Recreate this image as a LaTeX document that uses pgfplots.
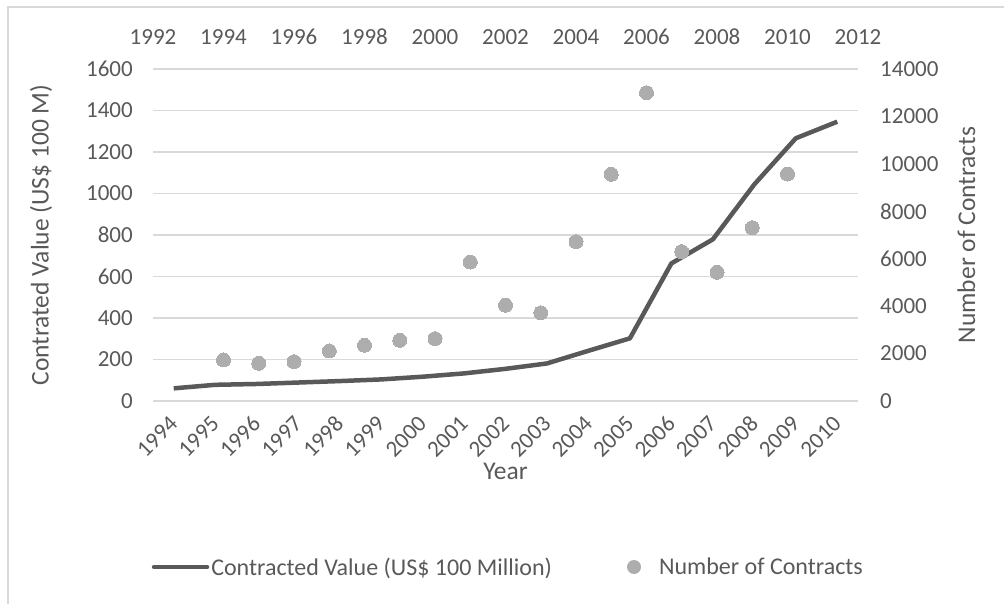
\documentclass[border=0pt]{standalone}
\usepackage{fontspec}
\setmainfont{Carlito}
\usepackage{pgfplots}
\usepackage{pgfplotstable}
\pgfplotsset{compat=1.18}

\definecolor{txt}{HTML}{595959}
\definecolor{gridgray}{HTML}{D9D9D9}
\definecolor{valline}{HTML}{595959}
\definecolor{dots}{HTML}{ADADAD}

\newcommand\tickfont{\fontsize{23}{27}\selectfont}
\newcommand\titlefont{\fontsize{25.5}{30}\selectfont}
\newcommand\legfont{\fontsize{24}{29}\selectfont}

% Contracted value, US$ 100 million (category axis, index 0 = 1994)
\pgfplotstableread{
idx year value
0  1994 61
1  1995 78
2  1996 82
3  1997 89
4  1998 96
5  1999 104
6  2000 117
7  2001 133
8  2002 155
9  2003 181
10 2004 242
11 2005 302
12 2006 663
13 2007 779
14 2008 1044
15 2009 1266
16 2010 1346
}\valuetable

% Number of contracts (secondary axes)
\pgfplotstableread{
year count
1994 1730
1995 1590
1996 1660
1997 2110
1998 2350
1999 2560
2000 2630
2001 5860
2002 4040
2003 3720
2004 6720
2005 9560
2006 13000
2007 6300
2008 5430
2009 7310
2010 9570
}\counttable

\pgfplotsset{
  chartbase/.style={
    scale only axis, width=705pt, height=332pt,
    at={(153pt,202pt)}, anchor=south west,
    axis line style={draw=none},
    major tick length=0pt,
    tick label style={font=\tickfont, text=txt, inner sep=0pt},
    /pgf/number format/1000 sep={},
    /pgf/number format/assume math mode=true,
    scaled ticks=false,
    label style={font=\titlefont, text=txt},
  }
}

\begin{document}
\begin{tikzpicture}[x=1pt,y=1pt]
\useasboundingbox (0,0) rectangle (1004,603);
% chart area frame
\draw[gridgray, line width=1.3pt] (8,-10) -- (8,596) -- (1020,596);

\begin{axis}[chartbase,
  xmin=-0.5, xmax=16.5, ymin=0, ymax=1600,
  xtick={0,...,16},
  xticklabels={1994,1995,1996,1997,1998,1999,2000,2001,2002,2003,2004,2005,2006,2007,2008,2009,2010},
  ytick={0,200,...,1600},
  ymajorgrids, grid style={gridgray, line width=1.3pt},
  xticklabel style={rotate=45, anchor=east},
  xticklabel shift=19pt,
  yticklabel style={anchor=east},
  yticklabel shift=20pt,
  ylabel={Contrated Value (US\$ 100 M)},
  ylabel style={at={(axis description cs:-0.148,0.5)}, anchor=base},
  xlabel={Year},
  xlabel style={at={(axis description cs:0.5,-0.235)}, anchor=base},
]
\addplot[valline, line width=4.5pt, line join=round, mark=none]
  table[x=idx, y=value] {\valuetable};
\end{axis}

\begin{axis}[chartbase,
  xmin=1992, xmax=2012, ymin=0, ymax=14000,
  axis x line*=top, axis y line*=right,
  xtick={1992,1994,...,2012},
  ytick={0,2000,...,14000},
  xticklabel style={anchor=south},
  xticklabel shift=24pt,
  yticklabel style={anchor=west},
  yticklabel shift=22pt,
  ylabel={Number of Contracts},
  ylabel style={at={(axis description cs:1.166,0.5)}, anchor=base, rotate=0},
  legend columns=2,
  legend cell align=left,
  legend style={at={(axis description cs:-0.002,-0.50)}, anchor=west,
    draw=none, fill=none, inner sep=0pt, font=\legfont, text=txt,
    nodes={inner xsep=2pt, inner ysep=0pt},
    /tikz/every even column/.append style={column sep=73pt}},
]
\addlegendimage{legend image code/.code={%
  \draw[valline, line width=4.5pt, line cap=round] (0pt,0pt) -- (53pt,0pt);}}
\addlegendentry{Contracted Value (US\$ 100 Million)}
\addplot[dots, only marks, mark=*, mark size=7pt,
  mark options={draw=dots, fill=dots, line width=0pt},
  legend image code/.code={%
    \fill[dots, draw=none] (7pt,0pt) circle (7pt);
    \path[draw=none, fill=none] (0pt,0pt) rectangle (30pt,0.1pt);}]
  table[x=year, y=count] {\counttable};
\addlegendentry{Number of Contracts}
\end{axis}
\end{tikzpicture}
\end{document}
